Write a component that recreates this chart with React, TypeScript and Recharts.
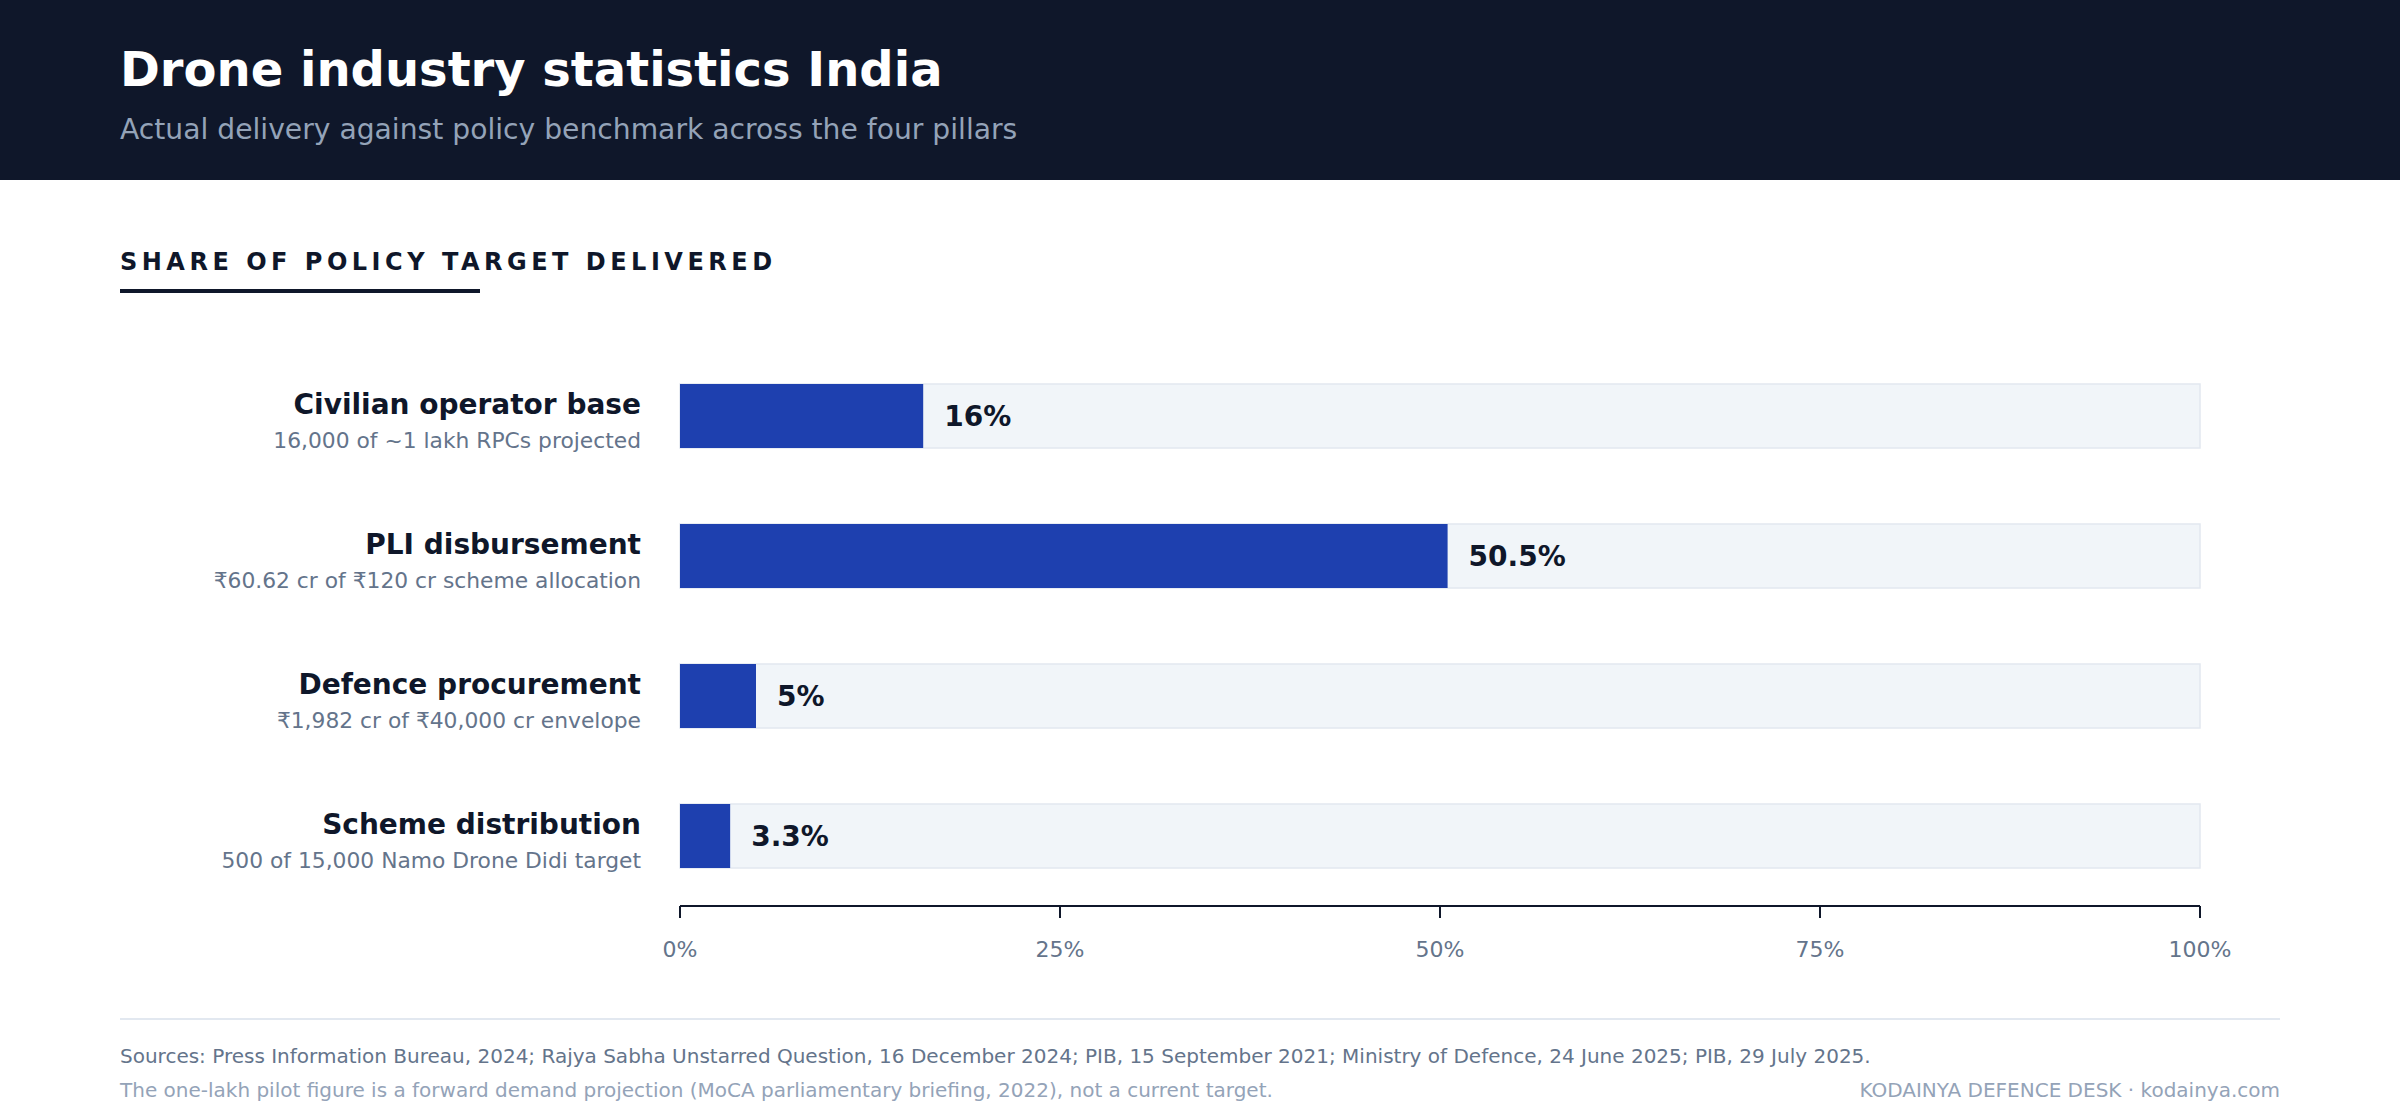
import { BarChart, Bar, XAxis, YAxis, LabelList } from 'recharts';

const categories = ['Civilian operator base', 'PLI disbursement', 'Defence procurement', 'Scheme distribution'];
const details = [
  '16,000 of ~1 lakh RPCs projected',
  '₹60.62 cr of ₹120 cr scheme allocation',
  '₹1,982 cr of ₹40,000 cr envelope',
  '500 of 15,000 Namo Drone Didi target',
];
const delivered = [16, 50.5, 5, 3.3];
const axisTicks = [0, 25, 50, 75, 100];

const data = categories.map((name, i) => ({ name, detail: details[i], value: delivered[i] }));

const FONT = '"DejaVu Sans", Verdana, sans-serif';

function CategoryTick(props: any) {
  const { x, y, payload } = props;
  const i = categories.indexOf(payload.value);
  return (
    <g>
      <text x={x} y={y - 2} textAnchor="end" fontSize={28} fontWeight={700} fill="#0f172a">
        {payload.value}
      </text>
      <text x={x} y={y + 32} textAnchor="end" fontSize={21.8} fill="#64748b">
        {details[i]}
      </text>
    </g>
  );
}

function ValueLabel(props: any) {
  const { x, y, width, height, value } = props;
  return (
    <text x={Number(x) + Number(width) + 21} y={Number(y) + Number(height) / 2 + 10} fontSize={28} fontWeight={700} fill="#0f172a">
      {value}%
    </text>
  );
}

export default function App() {
  return (
    <div style={{ position: 'relative', width: 2400, height: 1120, background: '#ffffff', fontFamily: FONT, overflow: 'hidden' }}>
      <style>{'body{margin:0}'}</style>
      <svg width={2400} height={1120} style={{ position: 'absolute', left: 0, top: 0 }}>
        <rect x={0} y={0} width={2400} height={180} fill="#0f172a" />
        <text x={120} y={86} fontSize={48} fontWeight={700} fill="#ffffff">Drone industry statistics India</text>
        <text x={120} y={139} fontSize={28.2} fill="#94a3b8">Actual delivery against policy benchmark across the four pillars</text>
        <text x={120} y={270} fontSize={24} fontWeight={700} fill="#0f172a" letterSpacing={4.5}>SHARE OF POLICY TARGET DELIVERED</text>
        <rect x={120} y={289} width={360} height={4} fill="#0f172a" />
        <line x1={120} x2={2280} y1={1019} y2={1019} stroke="#e2e8f0" strokeWidth={2} />
        <text x={120} y={1063} fontSize={20} fill="#64748b">
          Sources: Press Information Bureau, 2024; Rajya Sabha Unstarred Question, 16 December 2024; PIB, 15 September 2021; Ministry of Defence, 24 June 2025; PIB, 29 July 2025.
        </text>
        <text x={120} y={1097} fontSize={20} fill="#94a3b8">
          The one-lakh pilot figure is a forward demand projection (MoCA parliamentary briefing, 2022), not a current target.
        </text>
        <text x={2280} y={1097} fontSize={20} fill="#94a3b8" textAnchor="end">KODAINYA DEFENCE DESK · kodainya.com</text>
      </svg>
      <div style={{ position: 'absolute', left: 0, top: 300 }}>
        <BarChart width={2400} height={700} data={data} layout="vertical" margin={{ top: 46, right: 200, bottom: 14, left: 120 }}>
          <XAxis
            type="number"
            domain={[0, 100]}
            ticks={axisTicks}
            tickFormatter={(v) => `${v}%`}
            axisLine={{ stroke: '#0f172a', strokeWidth: 2 }}
            tickLine={{ stroke: '#0f172a', strokeWidth: 2 }}
            tickSize={12}
            tickMargin={23}
            tick={{ fill: '#64748b', fontSize: 22 }}
            height={80}
          />
          <YAxis
            type="category"
            dataKey="name"
            width={560}
            axisLine={false}
            tickLine={false}
            tickSize={0}
            tickMargin={39}
            interval={0}
            tick={<CategoryTick />}
          />
          <Bar dataKey="value" fill="#1e40af" barSize={64} background={{ fill: '#f1f5f9', stroke: '#e2e8f0', strokeWidth: 1.5 }} isAnimationActive={false}>
            <LabelList dataKey="value" content={<ValueLabel />} />
          </Bar>
        </BarChart>
      </div>
    </div>
  );
}
